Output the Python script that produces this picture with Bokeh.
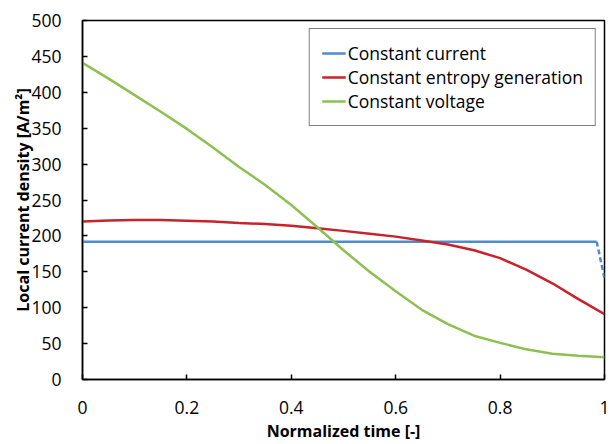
from bokeh.plotting import figure
from bokeh.models import Range1d, FixedTicker, Legend, LegendItem
from bokeh.embed import file_html
from bokeh.resources import INLINE

# --- data ---
t_cc = [0.0, 0.985]
j_cc = [192, 192]
t_cc_drop = [0.985, 1.0]
j_cc_drop = [192, 141]

t = [0.0, 0.05, 0.1, 0.15, 0.2, 0.25, 0.3, 0.35, 0.4, 0.45, 0.5,
     0.55, 0.6, 0.65, 0.7, 0.75, 0.8, 0.85, 0.9, 0.95, 1.0]
j_ceg = [220, 221.5, 222, 222, 221, 220, 218, 216.5, 214, 210.5, 207,
         203, 199, 193.5, 188, 180, 169, 153, 134, 112, 91]
j_cv = [441, 419, 396, 373, 349, 323, 296, 271, 243, 212, 180,
        150, 123, 97, 77, 61, 51, 42, 36, 33, 31]

xticks = [0, 0.2, 0.4, 0.6, 0.8, 1]
xtick_labels = ["0", "0.2", "0.4", "0.6", "0.8", "1"]
yticks = [0, 50, 100, 150, 200, 250, 300, 350, 400, 450, 500]

series_names = ["Constant current", "Constant entropy generation", "Constant voltage"]
colors = ["#4F8CC9", "#C8232C", "#8CC152"]

FONT = "Open Sans"

p = figure(width=609, height=444, output_backend="svg", toolbar_location=None,
           x_range=Range1d(0, 1), y_range=Range1d(0, 500),
           min_border_left=82, min_border_right=5, min_border_top=20, min_border_bottom=64)
p.grid.visible = False
p.outline_line_color = "black"
p.outline_line_width = 1.5
p.background_fill_color = "white"
p.border_fill_color = "white"

r1 = p.line(t_cc, j_cc, line_color=colors[0], line_width=2.5)
p.line(t_cc_drop, j_cc_drop, line_color=colors[0], line_width=2.5, line_dash="5 3")
r2 = p.line(t, j_ceg, line_color=colors[1], line_width=2.5)
r3 = p.line(t, j_cv, line_color=colors[2], line_width=2.5)

for ax in (p.xaxis[0], p.yaxis[0]):
    ax.axis_line_color = "black"
    ax.axis_line_width = 1.5
    ax.major_tick_line_color = "black"
    ax.major_tick_line_width = 1.5
    ax.major_tick_in = 5
    ax.major_tick_out = 0
    ax.minor_tick_line_color = None
    ax.major_label_text_font = FONT
    ax.major_label_text_font_size = "17.5px"
    ax.major_label_text_color = "black"
    ax.axis_label_text_font = FONT
    ax.axis_label_text_font_size = "16px"
    ax.axis_label_text_font_style = "bold"
    ax.axis_label_text_color = "black"

p.xaxis.ticker = FixedTicker(ticks=xticks)
p.xaxis.major_label_overrides = {k: v for k, v in zip(xticks, xtick_labels)}
p.yaxis.ticker = FixedTicker(ticks=yticks)
p.xaxis.axis_label = "Normalized time [-]"
p.yaxis.axis_label = "Local current density [A/m²]"
p.xaxis.major_label_standoff = 21
p.yaxis.major_label_standoff = 21
p.xaxis.axis_label_standoff = 3
p.yaxis.axis_label_standoff = -6

legend = Legend(items=[LegendItem(label=series_names[0], renderers=[r1]),
                       LegendItem(label=series_names[1], renderers=[r2]),
                       LegendItem(label=series_names[2], renderers=[r3])],
                location="top_right")
legend.border_line_color = "black"
legend.border_line_width = 1.5
legend.background_fill_alpha = 1.0
legend.label_text_font = FONT
legend.label_text_font_size = "17.5px"
legend.label_text_color = "black"
legend.glyph_width = 24
legend.label_standoff = 2
legend.label_height = 20
legend.spacing = 0
legend.padding = 12
legend.margin = 8
p.add_layout(legend)

open("out.html", "w").write(file_html(p, INLINE))
